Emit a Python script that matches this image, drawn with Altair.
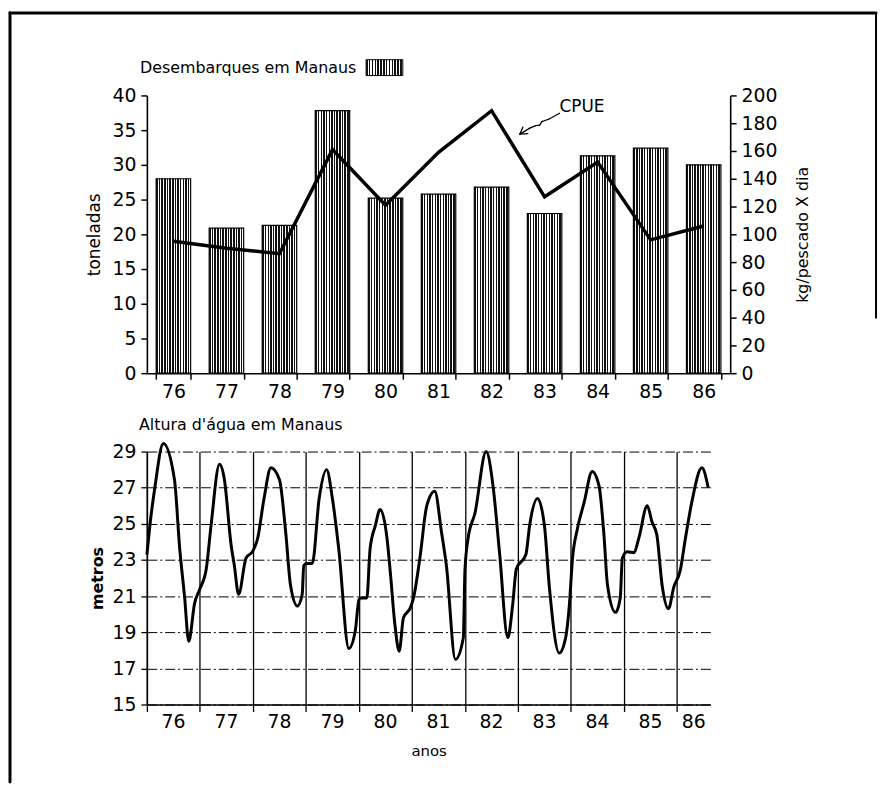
import altair as alt
import pandas as pd

FONT = "DejaVu Sans"

# ---------------- data ----------------
years = ["76", "77", "78", "79", "80", "81", "82", "83", "84", "85", "86"]
landings_t = [28.0, 20.9, 21.3, 37.8, 25.2, 25.8, 26.8, 23.0, 31.3, 32.4, 30.0]
cpue_kg = [95, 90, 86, 161, 121, 159, 189, 127, 152, 96, 106]

level_t = [0.00, 0.06, 0.15, 0.31, 0.52, 0.62, 0.71, 0.79, 0.90,
           1.00, 1.12, 1.21, 1.37, 1.46, 1.59, 1.65, 1.73, 1.87,
           2.00, 2.09, 2.21, 2.34, 2.50, 2.62, 2.71, 2.84, 2.93,
           2.96, 3.02, 3.12, 3.25, 3.39, 3.50, 3.62, 3.81, 3.93,
           4.00, 4.03, 4.15, 4.21, 4.31, 4.40, 4.53, 4.59, 4.68, 4.76, 4.84, 4.97,
           5.03, 5.15, 5.28, 5.43, 5.56, 5.65, 5.82, 5.97,
           6.00, 6.06, 6.19, 6.40, 6.53, 6.65, 6.81, 6.90,
           6.97, 7.15, 7.22, 7.37, 7.50, 7.59, 7.78, 7.90, 7.97,
           8.03, 8.12, 8.25, 8.40, 8.53, 8.62, 8.69, 8.84, 8.93,
           8.97, 9.06, 9.19, 9.28, 9.44, 9.53, 9.62, 9.72, 9.84, 9.94,
           10.06, 10.16, 10.28, 10.47, 10.59]
level_m = [23.3, 25.0, 27.0, 29.45, 27.45, 23.6, 21.0, 18.5, 20.6,
           21.4, 22.5, 24.9, 28.3, 27.5, 23.8, 22.7, 21.1, 23.1,
           23.5, 24.2, 26.4, 28.1, 27.45, 24.5, 21.6, 20.45, 21.1,
           22.7, 22.8, 22.8, 26.4, 28.0, 26.4, 23.6, 18.1, 19.05,
           20.8, 20.9, 20.9, 23.6, 24.9, 25.8, 24.2, 22.4, 19.4, 17.95, 19.8, 20.35,
           20.9, 23.1, 26.0, 26.8, 24.5, 22.7, 17.5, 18.7,
           22.4, 24.2, 25.6, 29.0, 27.1, 23.5, 18.7, 20.5,
           22.5, 23.3, 24.9, 26.4, 24.9, 21.6, 17.85, 18.7, 20.5,
           23.1, 24.7, 26.2, 27.9, 27.1, 24.5, 21.6, 20.1, 20.9,
           23.1, 23.45, 23.4, 24.2, 26.0, 25.1, 24.4, 21.6, 20.3, 21.5,
           22.4, 24.2, 26.2, 28.1, 27.0]

year_ticks = [1976, 1977, 1978, 1979, 1980, 1981, 1982, 1983, 1984, 1985, 1986]
x_end = 1986.63
label_pos = [1976.5, 1977.5, 1978.5, 1979.5, 1980.5, 1981.5, 1982.5, 1983.5,
             1984.5, 1985.5, 1986.315]

# ---------------- styling helpers ----------------
W_TOP, H_TOP = 588, 280
W_BOT, H_BOT = 568, 255
TICK_FS = 19

stops = []
n = 13
for i in range(n):
    a = i / n
    b = (i + 0.55) / n
    c = (i + 1) / n
    stops += [alt.GradientStop(color="#111111", offset=a),
              alt.GradientStop(color="#111111", offset=b),
              alt.GradientStop(color="#ffffff", offset=b),
              alt.GradientStop(color="#ffffff", offset=c)]
stripe = alt.LinearGradient(gradient="linear", stops=stops, x1=0, x2=1, y1=0, y2=0)

one = pd.DataFrame({"k": [0]})


def seg(x1, y1, x2, y2, w=1.3):
    return alt.Chart(one).mark_rule(color="black", strokeWidth=w, strokeCap="round").encode(
        x=alt.value(x1), y=alt.value(y1), x2=alt.value(x2), y2=alt.value(y2))


def label(txt, x, y, size=16, weight="normal", align="left"):
    return alt.Chart(one).mark_text(align=align, baseline="middle", font=FONT,
                                    fontSize=size, fontWeight=weight, color="black").encode(
        x=alt.value(x), y=alt.value(y), text=alt.value(txt))


# ---------------- top panel ----------------
top_df = pd.DataFrame({"ano": years, "ton": landings_t, "cpue": cpue_kg})

x_band = alt.X("ano:N", sort=years,
               scale=alt.Scale(paddingInner=0.35, paddingOuter=0.175),
               axis=alt.Axis(title=None, labelAngle=0, tickBand="extent", tickSize=6,
                             labelPadding=4, labelFontSize=TICK_FS, domainWidth=1.6,
                             tickWidth=1.5))

bars = alt.Chart(top_df).mark_bar(fill=stripe, stroke="black", strokeWidth=1.2).encode(
    x=x_band,
    y=alt.Y("ton:Q", scale=alt.Scale(domain=[0, 40], nice=False),
            axis=alt.Axis(values=list(range(0, 41, 5)), title="toneladas", tickSize=6,
                          labelPadding=5, labelFontSize=TICK_FS, titleFontSize=17,
                          titleFontWeight="normal", titlePadding=9, domainWidth=1.6,
                          tickWidth=1.5, grid=False)))

cpue_line = alt.Chart(top_df).mark_line(color="black", strokeWidth=3.5, strokeJoin="miter").encode(
    x=alt.X("ano:N", sort=years),
    y=alt.Y("cpue:Q", scale=alt.Scale(domain=[0, 200], nice=False),
            axis=alt.Axis(orient="right", values=list(range(0, 201, 20)),
                          title="kg/pescado X dia", titleAngle=270, tickSize=6,
                          labelPadding=5, labelFontSize=TICK_FS, titleFontSize=16,
                          titleFontWeight="normal", titlePadding=34, domainWidth=1.6,
                          tickWidth=1.5, grid=False)))

# annotations (pixel positions relative to plot origin)
arrow_pts = [(416, 18), (405, 24), (398, 26.5), (396, 30), (392, 30.5), (386, 33), (376, 39)]
arrow = [seg(a[0], a[1], b[0], b[1]) for a, b in zip(arrow_pts[:-1], arrow_pts[1:])]
arrow += [seg(376, 39, 379, 32), seg(376, 39, 384, 38.5)]

frame = [seg(-138, -83, 735, -83, 3), seg(-138, -83, -138, 692, 3), seg(735, -83, 735, 224, 2)]

top = alt.layer(
    bars, cpue_line,
    label("Desembarques em Manaus", -7, -28, 16),
    alt.Chart(one).mark_rect(fill=stripe, stroke="black", strokeWidth=1).encode(
        x=alt.value(221), x2=alt.value(258), y=alt.value(-36), y2=alt.value(-20)),
    label("CPUE", 416, 12, 17),
    *arrow, *frame,
).resolve_scale(y="independent").properties(width=W_TOP, height=H_TOP)

# ---------------- bottom panel ----------------
bot_df = pd.DataFrame({"ano": [1976 + t for t in level_t], "m": level_m})
lab_df = pd.DataFrame({"pos": label_pos, "txt": years})

x_q = alt.X("ano:Q", scale=alt.Scale(domain=[1976, x_end], nice=False, zero=False),
            axis=alt.Axis(values=year_ticks, labels=False, grid=True, gridColor="black",
                          gridWidth=1.3, gridOpacity=1, tickSize=7, tickWidth=1.3,
                          domainWidth=1.6, title="anos", titleFontSize=15,
                          titleFontWeight="normal", titlePadding=32))
y_q = alt.Y("m:Q", scale=alt.Scale(domain=[15, 29], nice=False, zero=False),
            axis=alt.Axis(values=list(range(15, 30, 2)), grid=True, gridColor="black",
                          gridDash=[10, 3, 2, 3], gridWidth=1, gridOpacity=1,
                          tickSize=6, tickWidth=1.3, labelPadding=5, labelFontSize=TICK_FS,
                          domainWidth=1.6, title="metros", titleFontSize=16,
                          titleFontWeight="bold", titlePadding=7))

level_line = alt.Chart(bot_df).mark_line(interpolate="monotone", color="black",
                                         strokeWidth=3).encode(x=x_q, y=y_q)

year_labels = alt.Chart(lab_df).mark_text(font=FONT, fontSize=TICK_FS, color="black",
                                          baseline="middle").encode(
    x=alt.X("pos:Q"), y=alt.value(H_BOT + 18), text="txt:N")

bottom = alt.layer(
    level_line, year_labels,
    label("Altura d'água em Manaus", -8, -27, 16),
).properties(width=W_BOT, height=H_BOT)

chart = alt.vconcat(top, bottom, spacing=79, bounds="flush").properties(
    padding=0
).configure_view(stroke="transparent").configure_axis(
    labelFont=FONT, titleFont=FONT, labelColor="black", titleColor="black",
    domainColor="black", tickColor="black"
)

chart.save("out.html", embed_options={"renderer": "svg", "actions": False})
